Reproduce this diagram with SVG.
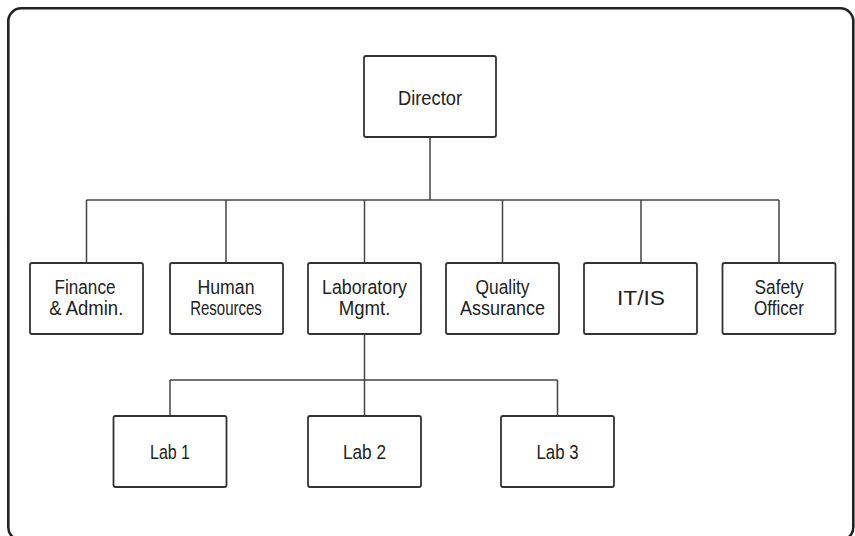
<svg xmlns="http://www.w3.org/2000/svg" width="855" height="536" viewBox="0 0 855 536">
  <style>
    .frame { fill: #ffffff; stroke: #222222; stroke-width: 2.6; }
    .box { fill: #ffffff; stroke: #333333; stroke-width: 1.8; }
    .wire { fill: none; stroke: #444444; stroke-width: 1.5; }
    .lbl { font-family: "Liberation Sans", Arial, sans-serif; font-size: 20.5px; fill: #222222; text-anchor: middle; }
  </style>

  <!-- outer frame -->
  <rect class="frame" x="8.3" y="8.3" width="845" height="532" rx="13" ry="13"/>

  <!-- connectors -->
  <g id="connectors">
    <path class="wire" d="M430 137 V200 M86.5 200 H779 M86.5 200 V263 M226 200 V263 M364.5 200 V263 M502.5 200 V263 M641 200 V263 M779 200 V263"/>
    <path class="wire" d="M364.5 334 V380 M170 380 H557.5 M170 380 V416 M364.5 380 V416 M557.5 380 V416"/>
  </g>

  <g id="director">
    <rect class="box" x="364" y="56" width="132" height="81" rx="2"/>
    <text class="lbl" x="430" y="104.7" textLength="64" lengthAdjust="spacingAndGlyphs">Director</text>
  </g>

  <g id="finance">
    <rect class="box" x="30" y="263" width="113" height="71" rx="2"/>
    <text class="lbl" x="85" y="294" textLength="61" lengthAdjust="spacingAndGlyphs">Finance</text>
    <text class="lbl" x="86.3" y="315" textLength="74" lengthAdjust="spacingAndGlyphs">&amp; Admin.</text>
  </g>

  <g id="human-resources">
    <rect class="box" x="170" y="263" width="113" height="71" rx="2"/>
    <text class="lbl" x="226" y="294" textLength="57" lengthAdjust="spacingAndGlyphs">Human</text>
    <text class="lbl" x="226" y="315" textLength="71.7" lengthAdjust="spacingAndGlyphs">Resources</text>
  </g>

  <g id="lab-mgmt">
    <rect class="box" x="308" y="263" width="113" height="71" rx="2"/>
    <text class="lbl" x="364.5" y="294" textLength="85" lengthAdjust="spacingAndGlyphs">Laboratory</text>
    <text class="lbl" x="364.5" y="315" textLength="51.7" lengthAdjust="spacingAndGlyphs">Mgmt.</text>
  </g>

  <g id="quality">
    <rect class="box" x="446" y="263" width="113" height="71" rx="2"/>
    <text class="lbl" x="502.5" y="294" textLength="54" lengthAdjust="spacingAndGlyphs">Quality</text>
    <text class="lbl" x="502.5" y="315" textLength="85" lengthAdjust="spacingAndGlyphs">Assurance</text>
  </g>

  <g id="it-is">
    <rect class="box" x="584" y="263" width="113" height="71" rx="2"/>
    <text class="lbl" x="641" y="304.5" textLength="48" lengthAdjust="spacingAndGlyphs">IT/IS</text>
  </g>

  <g id="safety">
    <rect class="box" x="722.5" y="263" width="113" height="71" rx="2"/>
    <text class="lbl" x="779" y="294" textLength="49" lengthAdjust="spacingAndGlyphs">Safety</text>
    <text class="lbl" x="779" y="315" textLength="50" lengthAdjust="spacingAndGlyphs">Officer</text>
  </g>

  <g id="lab1">
    <rect class="box" x="113.5" y="416" width="113" height="71" rx="2"/>
    <text class="lbl" x="170" y="459" textLength="40" lengthAdjust="spacingAndGlyphs">Lab 1</text>
  </g>

  <g id="lab2">
    <rect class="box" x="308" y="416" width="113" height="71" rx="2"/>
    <text class="lbl" x="364.5" y="459" textLength="43" lengthAdjust="spacingAndGlyphs">Lab 2</text>
  </g>

  <g id="lab3">
    <rect class="box" x="501" y="416" width="113" height="71" rx="2"/>
    <text class="lbl" x="557.5" y="459" textLength="42" lengthAdjust="spacingAndGlyphs">Lab 3</text>
  </g>
</svg>
